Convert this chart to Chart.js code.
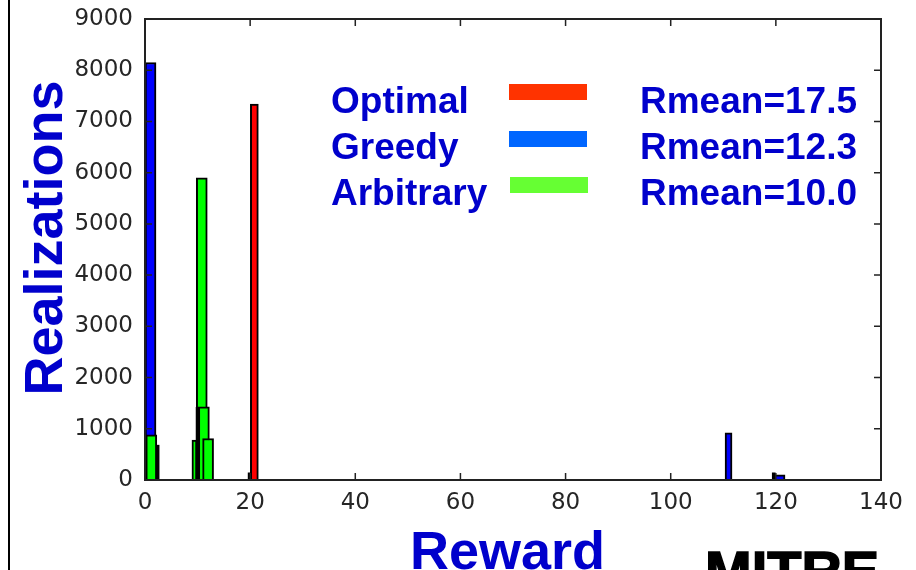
<!DOCTYPE html>
<html>
<head>
<meta charset="utf-8">
<script src="https://cdn.jsdelivr.net/npm/chart.js@4"></script>
<style>
  body { margin: 0; width: 916px; height: 570px; overflow: hidden; background: #fff; position: relative; font-family: "Liberation Sans", Arial, sans-serif; }
  #mainChart { position: absolute; left: 0; top: 0; }
  .t { position: absolute; white-space: nowrap; font-weight: bold; color: #0000cc; }
  .leg { font-size: 37px; line-height: 37px; }
  .sw { position: absolute; width: 78px; height: 16px; }
  #frame { position: absolute; left: 8px; top: 0; width: 2px; height: 570px; background: #000; }
</style>
</head>
<body>
<div id="frame"></div>
<canvas id="mainChart" width="916" height="570"></canvas>

<div class="t" style="left:-157px; top:211px; width:400px; text-align:center; font-size:54px; line-height:54px; transform:rotate(-90deg);">Realizations</div>
<div class="t" style="left:410px; top:523px; font-size:54px; line-height:54px;">Reward</div>
<div class="t" style="left:705px; top:543px; font-size:56px; line-height:56px; color:#000; -webkit-text-stroke:1.5px #000;">MITRE</div>

<div class="t leg" style="left:331px; top:82px;">Optimal</div>
<div class="t leg" style="left:331px; top:128px;">Greedy</div>
<div class="t leg" style="left:331px; top:174px;">Arbitrary</div>
<div class="sw" style="left:509px; top:84px; background:#ff3300;"></div>
<div class="sw" style="left:509px; top:131px; background:#0066ff;"></div>
<div class="sw" style="left:510px; top:177px; background:#66ff33;"></div>
<div class="t leg" style="left:640px; top:82px;">Rmean=17.5</div>
<div class="t leg" style="left:640px; top:128px;">Rmean=12.3</div>
<div class="t leg" style="left:640px; top:174px;">Rmean=10.0</div>

<script>
// data
const xTicks = [0, 20, 40, 60, 80, 100, 120, 140];
const yTicks = [0, 1000, 2000, 3000, 4000, 5000, 6000, 7000, 8000, 9000];

const optimalReward = [20.8];
const optimalCount = [7340];

const greedyReward = [1.05, 111, 120.7];
const greedyCount = [8150, 920, 100];

const arbitraryReward = [1.2, 9.4, 10.8, 11.2, 12.0];
const arbitraryCount = [880, 780, 5900, 1430, 810];

// batang hitam tipis yang kelihatan di belakang
const edgeReward = [2.4, 10.0, 19.9, 119.6];
const edgeCount = [680, 1420, 140, 140];

function layer(rewards, counts, idx, color, width, order) {
    return {
        data: idx.map(i => ({ x: rewards[i], y: counts[i] })),
        backgroundColor: color,
        borderColor: '#000',
        borderWidth: color === '#000' ? 0 : 2,
        barThickness: width,
        grouped: false,
        order: order
    };
}

const boxPlugin = {
    id: 'box',
    afterDraw(chart) {
        const { ctx, chartArea: a, scales } = chart;
        ctx.save();
        ctx.strokeStyle = '#222';
        ctx.lineWidth = 2;
        ctx.strokeRect(a.left, a.top, a.right - a.left, a.bottom - a.top);
        ctx.lineWidth = 1.5;
        ctx.beginPath();
        scales.x.ticks.forEach(t => {
            const px = scales.x.getPixelForValue(t.value);
            ctx.moveTo(px, a.bottom); ctx.lineTo(px, a.bottom - 7);
            ctx.moveTo(px, a.top); ctx.lineTo(px, a.top + 7);
        });
        scales.y.ticks.forEach(t => {
            const py = scales.y.getPixelForValue(t.value);
            ctx.moveTo(a.left, py); ctx.lineTo(a.left + 7, py);
            ctx.moveTo(a.right, py); ctx.lineTo(a.right - 7, py);
        });
        ctx.stroke();
        ctx.restore();
    }
};

const tickFont = { family: 'DejaVu Sans', size: 23 };

new Chart(document.getElementById('mainChart'), {
    type: 'bar',
    data: {
        datasets: [
            layer(greedyReward, greedyCount, [0, 2], '#0000ff', 11, 6),
            layer(greedyReward, greedyCount, [1], '#0000ff', 7, 6),
            layer(optimalReward, optimalCount, [0], '#ff0000', 8, 6),
            layer(arbitraryReward, arbitraryCount, [2], '#00ff00', 11, 5),
            layer(edgeReward, edgeCount, [0, 1, 2, 3], '#000', 3, 4),
            layer(arbitraryReward, arbitraryCount, [0, 3], '#00ff00', 11, 3),
            layer(arbitraryReward, arbitraryCount, [1], '#00ff00', 5, 3),
            layer(arbitraryReward, arbitraryCount, [4], '#00ff00', 11, 2)
        ]
    },
    options: {
        responsive: false,
        animation: false,
        layout: { padding: { top: 19, right: 35, left: 0, bottom: 0 } },
        plugins: { legend: { display: false }, tooltip: { enabled: false } },
        scales: {
            x: {
                type: 'linear',
                min: 0,
                max: 140,
                offset: false,
                afterFit: s => { s.height = 90; s.paddingLeft = 0; s.paddingRight = 0; },
                afterBuildTicks: s => { s.ticks = xTicks.map(v => ({ value: v })); },
                ticks: { font: tickFont, color: '#262626', padding: 9, maxRotation: 0, callback: v => String(v) },
                grid: { display: false, drawTicks: false, offset: false },
                border: { display: false }
            },
            y: {
                min: 0,
                max: 9000,
                afterFit: s => { s.width = 145; s.paddingTop = 0; s.paddingBottom = 0; },
                afterBuildTicks: s => { s.ticks = yTicks.map(v => ({ value: v })); },
                ticks: { font: tickFont, color: '#262626', padding: 12, callback: v => String(v) },
                grid: { display: false, drawTicks: false },
                border: { display: false }
            }
        }
    },
    plugins: [boxPlugin]
});
</script>
</body>
</html>
